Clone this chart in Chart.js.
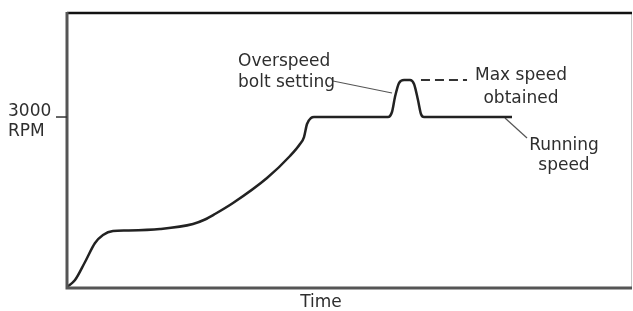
<!DOCTYPE html>
<html>
<head>
<meta charset="utf-8">
<script src="https://cdn.jsdelivr.net/npm/chart.js@4.4.1/dist/chart.umd.min.js"></script>
<style>
  html, body { margin: 0; padding: 0; background: #fff; }
  #wrap { width: 633px; height: 311px; }
</style>
</head>
<body>
<div id="wrap"><canvas id="myChart" width="633" height="311"></canvas></div>
<script>
// time (0-100, arbitrary units) and speed (RPM)
const timeValues = [0, 1.42, 3.19, 4.96, 6.37, 8.14, 10.62, 16.46, 22.30, 24.42, 26.19, 29.38, 35.40, 39.47, 41.24,
                    41.95, 42.48, 43.19, 43.72,
                    56.81, 57.52, 58.05, 58.76, 59.65, 60.71, 61.42, 62.12, 62.65, 63.19, 78.76];
const rpmValues = [18, 140, 456, 789, 930, 1000, 1009, 1035, 1123, 1202, 1298, 1491, 1930, 2316, 2526,
                   2649, 2877, 2982, 3000,
                   3000, 3088, 3351, 3596, 3649, 3649, 3579, 3298, 3053, 3000, 3000];

// dashed "max speed" line
const maxTime = [62.65, 70.8];
const maxRpm = [3649, 3649];

// leader lines
const boltLeaderTime = [47.08, 57.52];
const boltLeaderRpm = [3632, 3421];
const runLeaderTime = [77.52, 81.42];
const runLeaderRpm = [2982, 2632];

const tickRpm = 3000;
const tickLabels = ['3000', 'RPM'];

// text notes: [text, time, rpm, align]
const notes = [
    ['Overspeed', 30.27, 3895, 'left'],
    ['bolt setting', 30.27, 3526, 'left'],
    ['Max speed', 80.35, 3649, 'center'],
    ['obtained', 80.35, 3246, 'center'],
    ['Running', 87.96, 2421, 'center'],
    ['speed', 87.96, 2079, 'center'],
    ['Time', 44.96, -342, 'center']
];

const toXY = (xs, ys) => xs.map((x, i) => ({ x: x, y: ys[i] }));
const textFont = '17px "DejaVu Sans"';
const textColor = '#2e2e2e';

// frame, tick mark and text
const decor = {
    id: 'decor',
    afterDatasetsDraw(chart) {
        const ctx = chart.ctx;
        const a = chart.chartArea;
        const xs = chart.scales.x, ys = chart.scales.y;
        ctx.save();
        // right edge
        ctx.strokeStyle = '#c8c8c8';
        ctx.lineWidth = 1;
        ctx.beginPath();
        ctx.moveTo(a.right - 0.5, a.top);
        ctx.lineTo(a.right - 0.5, a.bottom);
        ctx.stroke();
        // top border
        ctx.strokeStyle = '#111';
        ctx.lineWidth = 2.5;
        ctx.beginPath();
        ctx.moveTo(a.left, a.top);
        ctx.lineTo(a.right, a.top);
        ctx.stroke();
        // left + bottom
        ctx.strokeStyle = '#555';
        ctx.lineWidth = 3;
        ctx.beginPath();
        ctx.moveTo(a.left, a.top - 1);
        ctx.lineTo(a.left, a.bottom);
        ctx.lineTo(a.right, a.bottom);
        ctx.stroke();
        // tick at 3000
        const ty = ys.getPixelForValue(tickRpm);
        ctx.strokeStyle = '#333';
        ctx.lineWidth = 1.5;
        ctx.beginPath();
        ctx.moveTo(a.left - 11, ty);
        ctx.lineTo(a.left, ty);
        ctx.stroke();
        ctx.font = textFont;
        ctx.fillStyle = textColor;
        ctx.textBaseline = 'alphabetic';
        ctx.textAlign = 'left';
        ctx.fillText(tickLabels[0], a.left - 59, ty - 1.5);
        ctx.fillText(tickLabels[1], a.left - 59, ty + 18.5);
        notes.forEach(n => {
            ctx.textAlign = n[3];
            ctx.fillText(n[0], xs.getPixelForValue(n[1]), ys.getPixelForValue(n[2]));
        });
        ctx.restore();
    }
};

const ctx = document.getElementById('myChart').getContext('2d');
const myChart = new Chart(ctx, {
    type: 'scatter',
    data: {
        datasets: [{
            data: toXY(timeValues, rpmValues),
            showLine: true,
            borderColor: '#222',
            borderWidth: 2.5,
            pointRadius: 0,
            tension: 0.4,
            cubicInterpolationMode: 'monotone',
            fill: false
        }, {
            data: toXY(maxTime, maxRpm),
            showLine: true,
            borderColor: '#333',
            borderWidth: 2,
            borderDash: [9, 5],
            pointRadius: 0
        }, {
            data: toXY(boltLeaderTime, boltLeaderRpm),
            showLine: true,
            borderColor: '#555',
            borderWidth: 1.2,
            pointRadius: 0
        }, {
            data: toXY(runLeaderTime, runLeaderRpm),
            showLine: true,
            borderColor: '#555',
            borderWidth: 1.2,
            pointRadius: 0
        }]
    },
    options: {
        responsive: false,
        animation: false,
        layout: { padding: { left: 67, right: 1, top: 13, bottom: 23 } },
        plugins: { legend: { display: false }, tooltip: { enabled: false } },
        scales: {
            x: { type: 'linear', min: 0, max: 100, display: false },
            y: { type: 'linear', min: 0, max: 4825, display: false }
        }
    },
    plugins: [decor]
});
</script>
</body>
</html>
